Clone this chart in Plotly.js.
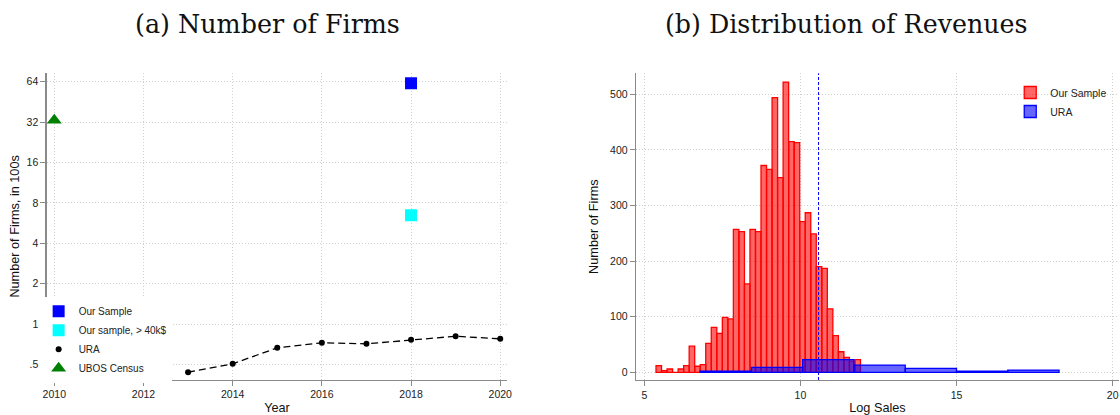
<!DOCTYPE html>
<html><head><meta charset="utf-8">
<script src="https://cdn.plot.ly/plotly-3.0.1.min.js"></script>
<style>html,body{margin:0;padding:0;background:#fff}#chart{width:1120px;height:415px}</style>
</head><body><div id="chart"></div>
<script>
// ---------- Panel (a): Number of firms (in 100s) ----------
const uraYears = [2013, 2014, 2015, 2016, 2017, 2018, 2019, 2020];
const uraFirms = [0.438, 0.506, 0.666, 0.726, 0.713, 0.764, 0.812, 0.777];
const sampleYears = [2018];
const sampleFirms = [62.3];
const sample40kYears = [2018];
const sample40kFirms = [6.47];
const censusYears = [2010];
const censusFirms = [33.1];
const yearTicks = [2010, 2012, 2014, 2016, 2018, 2020];
const firmTickVals = [0.5, 1, 2, 4, 8, 16, 32, 64];
const firmTickText = ['.5', '1', '2', '4', '8', '16', '32', '64'];

// ---------- Panel (b): Distribution of revenues ----------
const salesBinCenters = [5.463, 5.640, 5.817, 5.994, 6.171, 6.348, 6.525, 6.702, 6.879, 7.056,
  7.233, 7.410, 7.587, 7.764, 7.941, 8.118, 8.295, 8.472, 8.649, 8.826,
  9.003, 9.180, 9.357, 9.534, 9.711, 9.888, 10.065, 10.242, 10.419, 10.596,
  10.773, 10.950, 11.127, 11.304, 11.481, 11.658, 11.835];
const salesCounts = [12, 3, 6, 0, 6, 12, 47, 11, 14, 52,
  81, 70, 99, 96, 257, 253, 159, 257, 253, 372,
  365, 494, 350, 522, 415, 413, 271, 287, 249, 190,
  187, 114, 66, 37, 27, 20, 23];
const salesBinWidth = 0.177;
const uraBinCenters = [7.608, 9.251, 10.893, 12.536, 14.178, 15.821, 17.463];
const uraCounts = [2, 9, 23, 13, 7, 2, 4];
const uraBinWidth = 1.642;
const cutoffLogSales = 10.58;
const salesTicks = [5, 10, 15, 20];
const countTicks = [0, 100, 200, 300, 400, 500];

const SANS = 'Liberation Sans, Arial, sans-serif';
const SERIF = 'DejaVu Serif, serif';
const GRID = '#cfcfcf';
const AXIS = '#8a8a8a';

const traces = [
  {x: sampleYears, y: sampleFirms, type: 'scatter', mode: 'markers', name: 'Our Sample',
   marker: {symbol: 'square', size: 12, color: '#0000ff'}, xaxis: 'x', yaxis: 'y', legend: 'legend'},
  {x: sample40kYears, y: sample40kFirms, type: 'scatter', mode: 'markers', name: 'Our sample, > 40k$',
   marker: {symbol: 'square', size: 12, color: '#00ffff'}, xaxis: 'x', yaxis: 'y', legend: 'legend'},
  {x: uraYears, y: uraFirms, type: 'scatter', mode: 'lines', name: 'URA line', showlegend: false,
   line: {color: '#000', width: 1.3, dash: '7px,4px'}, xaxis: 'x', yaxis: 'y', legend: 'legend'},
  {x: uraYears, y: uraFirms, type: 'scatter', mode: 'markers', name: 'URA',
   marker: {symbol: 'circle', size: 6, color: '#000'}, xaxis: 'x', yaxis: 'y', legend: 'legend'},
  {x: censusYears, y: censusFirms, type: 'scatter', mode: 'markers', name: 'UBOS Census',
   marker: {symbol: 'triangle-up', size: 13, color: '#008000'}, xaxis: 'x', yaxis: 'y', legend: 'legend',
   cliponaxis: false},
  {x: salesBinCenters, y: salesCounts, type: 'bar', name: 'Our Sample', width: salesBinWidth,
   marker: {color: 'rgba(255,0,0,0.6)', line: {color: '#ff0000', width: 1.3}},
   xaxis: 'x2', yaxis: 'y2', legend: 'legend2'},
  {x: uraBinCenters, y: uraCounts, type: 'bar', name: 'URA', width: uraBinWidth,
   marker: {color: 'rgba(0,0,255,0.6)', line: {color: '#0000ff', width: 1.3}},
   xaxis: 'x2', yaxis: 'y2', legend: 'legend2'}
];

const axisCommon = {
  showline: true, linecolor: AXIS, linewidth: 1.3,
  ticks: 'outside', ticklen: 5, tickcolor: AXIS, tickwidth: 1,
  tickfont: {family: SANS, size: 10.5, color: '#222'},
  showgrid: true, gridcolor: GRID, gridwidth: 1, griddash: '1px,2px',
  zeroline: false
};

const layout = {
  width: 1120, height: 415,
  margin: {l: 0, r: 0, t: 0, b: 0},
  paper_bgcolor: '#fff', plot_bgcolor: '#fff',
  barmode: 'overlay', bargap: 0,
  font: {family: SANS, color: '#222'},
  xaxis: Object.assign({}, axisCommon, {
    domain: [0.0417, 0.4530], range: [2009.83, 2020.16], anchor: 'y',
    tickvals: yearTicks,
    title: {text: 'Year', font: {family: SANS, size: 12.7, color: '#111'}, standoff: 4}
  }),
  yaxis: Object.assign({}, axisCommon, {
    domain: [0.0855, 0.8234], type: 'log', range: [-0.4127, 1.869], anchor: 'x',
    tickvals: firmTickVals, ticktext: firmTickText,
    title: {text: 'Number of Firms, in 100s', font: {family: SANS, size: 12.7, color: '#111'}, standoff: 4}
  }),
  xaxis2: Object.assign({}, axisCommon, {
    domain: [0.5679, 0.999], range: [4.735, 20.2], anchor: 'y2',
    tickvals: salesTicks,
    title: {text: 'Log Sales', font: {family: SANS, size: 12.7, color: '#111'}, standoff: 4}
  }),
  yaxis2: Object.assign({}, axisCommon, {
    domain: [0.0843, 0.8234], range: [-13.8, 537.8], anchor: 'x2',
    tickvals: countTicks,
    title: {text: 'Number of Firms', font: {family: SANS, size: 12.7, color: '#111'}, standoff: 8}
  }),
  legend: {
    x: 0.0345, y: 0.285, xanchor: 'left', yanchor: 'top',
    bgcolor: '#fff', borderwidth: 0, font: {family: SANS, size: 10, color: '#222'},
    tracegroupgap: 0, itemwidth: 30
  },
  legend2: {
    x: 0.902, y: 0.812, xanchor: 'left', yanchor: 'top',
    bgcolor: 'rgba(255,255,255,0)', borderwidth: 0, font: {family: SANS, size: 10.5, color: '#222'},
    tracegroupgap: 0, itemwidth: 30
  },
  shapes: [
    {type: 'line', xref: 'x2', yref: 'y2 domain', x0: cutoffLogSales, x1: cutoffLogSales, y0: 0, y1: 1,
     line: {color: '#0000ff', width: 1, dash: '3px,2px'}, layer: 'above'}
  ],
  annotations: [
    {text: '(a) Number of Firms', xref: 'paper', yref: 'paper', x: 0.2388, y: 0.941,
     xanchor: 'center', yanchor: 'middle', showarrow: false,
     font: {family: SERIF, size: 25.4, color: '#111'}},
    {text: '(b) Distribution of Revenues', xref: 'paper', yref: 'paper', x: 0.7554, y: 0.941,
     xanchor: 'center', yanchor: 'middle', showarrow: false,
     font: {family: SERIF, size: 25.3, color: '#111'}}
  ]
};

Plotly.newPlot('chart', traces, layout, {displayModeBar: false, staticPlot: true});
</script>
</body></html>
